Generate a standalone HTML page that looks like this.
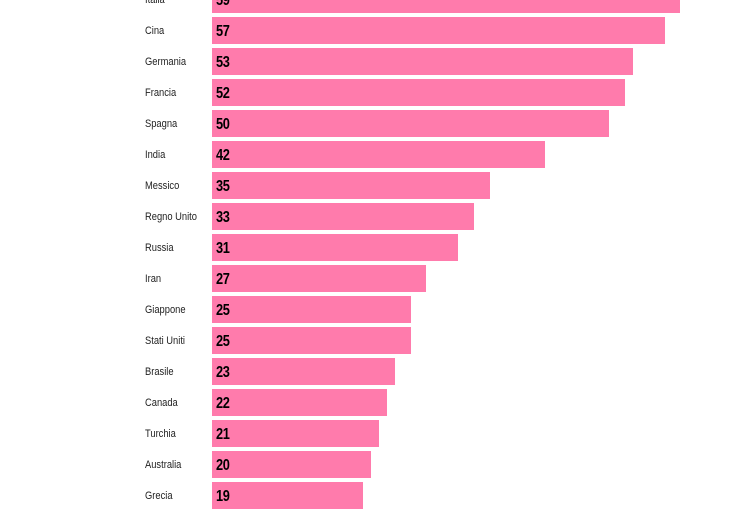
<!DOCTYPE html>
<html><head><meta charset="utf-8"><style>
body{margin:0;background:#fff;width:755px;height:503px;overflow:hidden;position:relative;font-family:"Liberation Sans Narrow","Liberation Sans",sans-serif}
.l{position:absolute;left:145px;font-size:11px;color:#222;transform:scaleX(.85);transform-origin:left}
.b{position:absolute;left:212px;height:27px;background:#ff7bac}
.n{position:absolute;left:4px;top:6px;font-size:16px;font-weight:bold;color:#000;transform:scaleX(.8);transform-origin:left;letter-spacing:-0.5px}
</style></head><body>
<div id="c"></div>
<script>
var d=[["Italia",59],["Cina",57],["Germania",53],["Francia",52],["Spagna",50],["India",42],["Messico",35],["Regno Unito",33],["Russia",31],["Iran",27],["Giappone",25],["Stati Uniti",25],["Brasile",23],["Canada",22],["Turchia",21],["Australia",20],["Grecia",19]];
var h="";
d.forEach(function(r,i){var t=-14+31*i;
h+='<div class="l" style="top:'+(t+8)+'px">'+r[0]+'</div>';
h+='<div class="b" style="top:'+t+'px;width:'+Math.round(r[1]*7.94)+'px"><span class="n">'+r[1]+'</span></div>';});
document.getElementById("c").innerHTML=h;
</script>
</body></html>
